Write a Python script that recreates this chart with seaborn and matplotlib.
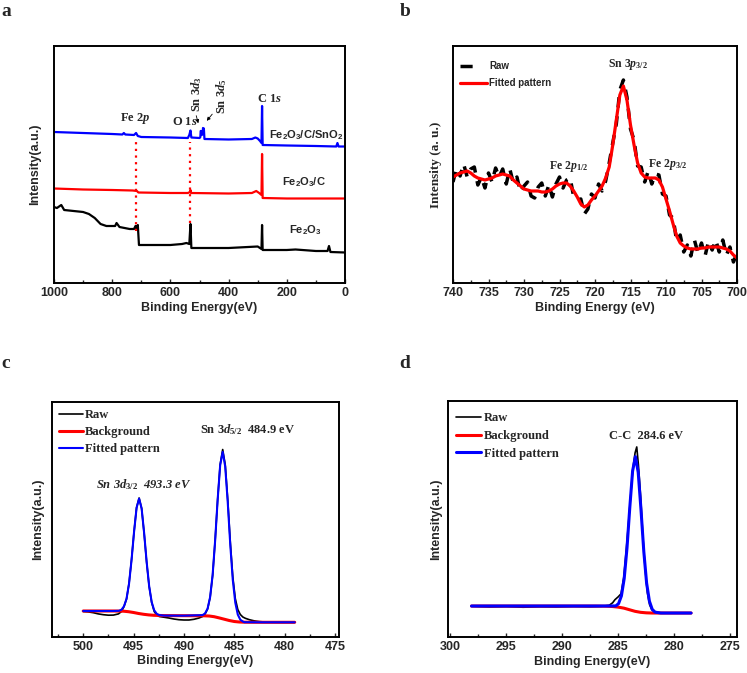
import numpy as np
import matplotlib
matplotlib.use("Agg")
import matplotlib.pyplot as plt
from matplotlib.ticker import MultipleLocator
from matplotlib.lines import Line2D
import seaborn as sns

# ---------------- data (intensities in arbitrary units) ----------------
# a) survey spectra
survey_sn_e = [1000, 900, 800, 765, 760, 755, 725, 718, 712, 700, 600, 540, 535, 531, 528, 500,
               497, 496, 494, 492, 489, 488, 485, 483, 400, 320, 308, 300, 292, 287, 285, 283,
               200, 100, 30, 26, 22, 0]
survey_sn_i = [151, 150, 149, 148.5, 150, 148.5, 148, 150, 147, 146, 145.5, 145, 148, 152.5, 145.5, 145,
               146, 152, 152, 148, 149, 155, 154.5, 144, 143.5, 144, 145.5, 144.5, 142, 140, 177, 138,
               137.5, 137, 136.5, 140, 136.5, 136.5]
survey_c_e = [1000, 900, 800, 730, 715, 710, 600, 540, 533, 531, 529, 400, 320, 305, 295, 287, 285, 283, 200, 0]
survey_c_i = [94.5, 93.5, 93, 92.5, 92, 90.5, 90, 90, 91, 93, 90, 89.5, 90, 92, 90, 88, 129, 85, 84.5, 84.5]
survey_fe_e = [1000, 990, 975, 965, 900, 880, 860, 840, 820, 790, 785, 775, 740, 725, 720, 715, 712, 708,
               700, 600, 560, 545, 535, 531, 528, 500, 400, 300, 287, 285, 283, 200, 170, 100, 60, 55, 50, 0]
survey_fe_i = [76, 75, 78, 73, 71, 69, 65, 59, 57, 57, 60, 56, 54, 54, 57, 53, 58, 38,
               38, 38, 39, 40, 39, 59, 35, 35, 35, 36.5, 34, 58, 33, 33, 33.5, 32, 32, 37, 31, 30.5]

# b) Fe 2p / Sn 3p region, 0.5 eV steps from 740 to 700 eV
fe2p_e = np.linspace(740, 700, 81)
fe2p_fit = [106, 108, 110, 111, 112, 110, 107, 105, 104, 103, 104, 105, 107, 108, 109, 108, 107, 103,
            100, 97, 94, 93, 92, 92, 92, 91, 91, 92, 94, 97, 99, 100, 100, 97, 92, 86, 79, 76,
            78, 83, 87, 92, 97, 105, 116, 138, 163, 188, 197, 183, 158, 138, 120, 110, 106, 105,
            105, 105, 103, 96, 84, 72, 59, 47, 40, 37, 35, 34, 34, 34, 35, 35, 36, 36, 36, 36,
            35, 34, 32, 28, 25]
fe2p_raw = [101, 115, 107, 119, 106, 114, 116, 98, 106, 95, 110, 101, 115, 106, 114, 99, 114, 100,
            106, 91, 97, 101, 87, 85, 96, 100, 87, 98, 86, 99, 106, 95, 103, 105, 86, 83, 84, 69,
            74, 89, 85, 99, 92, 102, 120, 140, 159, 193, 203, 186, 154, 143, 117, 116, 101, 112,
            99, 109, 108, 89, 87, 68, 65, 42, 48, 31, 38, 27, 43, 30, 40, 27, 42, 33, 43, 31,
            43, 28, 36, 21, 30]

# c) Sn 3d
sn3d_raw_e = [500, 499.5, 499, 498.5, 498, 497.5, 497, 496.5, 496.2, 495.95, 495.7, 495.45, 495.2, 494.95,
              494.7, 494.45, 494.2, 493.95, 493.7, 493.45, 493.2, 492.95, 492.7, 492.45, 492, 491.5, 491,
              490.5, 490, 489.5, 489, 488.5, 488.15, 487.9, 487.65, 487.4, 487.15, 486.9, 486.65, 486.4,
              486.15, 485.9, 485.65, 485.4, 485.15, 484.9, 484.65, 484.4, 484.15, 483.9, 483.5, 483,
              482.5, 482, 481, 480, 479]
sn3d_raw_i = [25.0, 24.6, 23.8, 22.6, 21.8, 21.3, 21.4, 22.6, 25.0, 30.0, 37.5, 53, 77, 105,
              129, 138.5, 128, 103, 74, 50, 34, 25, 21.5, 20.0, 19.3, 18.5, 17.5,
              16.8, 16.5, 16.5, 17.2, 18.5, 20.0, 22.5, 27.5, 39, 61, 96, 137, 172,
              187, 172, 137, 95, 60, 38, 27, 22, 19.5, 18.2, 16.8, 15.6,
              14.9, 14.5, 14.3, 14.2, 14.2]
sn3d_bg_e = [500, 497, 496, 495.5, 495, 494.5, 494, 493.5, 493, 492, 490, 488, 487.5, 487, 486.5, 486,
             485.5, 485, 484.5, 484, 482, 479]
sn3d_bg_i = [25.5, 25.5, 25.3, 24.8, 24.0, 23.0, 22.2, 21.6, 21.2, 20.9, 20.8, 20.7, 20.5, 19.8, 18.6, 17.3,
             16.0, 15.0, 14.5, 14.3, 14.2, 14.2]
sn3d_fit_e = [500, 497, 496.45, 496.2, 495.95, 495.7, 495.45, 495.2, 494.95, 494.7, 494.45, 494.2, 493.95,
              493.7, 493.45, 493.2, 492.95, 492.7, 492.45, 492, 490, 488.15, 487.9, 487.65, 487.4, 487.15,
              486.9, 486.65, 486.4, 486.15, 485.9, 485.65, 485.4, 485.15, 484.9, 484.65, 484.4, 484.15,
              484, 482, 479]
sn3d_fit_i = [25.5, 25.5, 25.7, 26.8, 30.2, 37.7, 52.9, 76.6, 104.8, 128.7, 137.9, 128.1, 103.4,
              74.5, 50.1, 34.4, 26.2, 22.7, 21.4, 20.9, 20.8, 21.4, 23.1, 27.9, 39.3, 61.5,
              95.9, 136.9, 171.3, 184.6, 170.0, 134.4, 92.2, 56.8, 33.9, 21.9, 16.8, 15.0,
              14.3, 14.2, 14.2]

# d) C 1s
c1s_raw_e = [298.1, 296.5, 295, 293.5, 292, 290.5, 289, 287.5, 286.5, 285.8, 285.5, 285.3, 285.0, 284.75,
             284.5, 284.3, 284.1, 283.9, 283.7, 283.5, 283.35, 283.2, 283.0, 282.8, 282.6, 282.4, 282.2,
             282.0, 281.7, 281.3, 280, 278.5]
c1s_raw_i = [30.5, 29.8, 30.2, 29.5, 30.0, 29.8, 30.3, 30.0, 30.4, 31.5, 34, 37, 40, 43,
             60, 85, 112, 140, 168, 184, 190, 172, 140, 100, 68, 44, 32,
             27, 24.8, 24.0, 23.7, 23.7]
c1s_bg_e = [298.1, 287, 286, 285.5, 285, 284.5, 284, 283.5, 283, 282.5, 282, 278.5]
c1s_bg_i = [30.7, 30.7, 30.5, 30.2, 29.6, 28.6, 27.0, 25.4, 24.4, 23.9, 23.7, 23.7]
c1s_fit_e = [298.1, 287, 285.22, 284.97, 284.72, 284.47, 284.22, 283.97, 283.72, 283.47, 283.22, 282.97,
             282.72, 282.47, 282.22, 281.97, 281.72, 281.2, 278.5]
c1s_fit_i = [30.7, 30.7, 30.8, 33.2, 40.8, 58.3, 88.9, 129.5, 165.9, 180.3, 164.6, 127.0,
             85.3, 53.7, 35.6, 27.4, 24.6, 23.7, 23.7]

# ---------------- style ----------------
sns.set_style("ticks")
plt.rcParams["font.family"] = ["Liberation Sans", "DejaVu Sans"]
plt.rcParams["mathtext.fontset"] = "custom"
plt.rcParams["mathtext.rm"] = "Liberation Serif:bold"
plt.rcParams["mathtext.it"] = "Liberation Serif:italic:bold"
plt.rcParams["mathtext.bf"] = "Liberation Serif:bold"
plt.rcParams["mathtext.sf"] = "Liberation Sans:bold"
plt.rcParams["axes.linewidth"] = 1.4

SERIF = ["Liberation Serif", "DejaVu Serif"]

fig = plt.figure(figsize=(7.47, 6.73), dpi=100)
W, H = 747.0, 673.0


def box(l, r, t, b):
    return [l / W, 1 - b / H, (r - l) / W, (b - t) / H]


ax_a = fig.add_axes(box(54, 345, 46, 283))
ax_b = fig.add_axes(box(453, 737, 46, 283))
ax_c = fig.add_axes(box(52, 339, 402, 636.5))
ax_d = fig.add_axes(box(448, 737, 401, 636.7))


def frame(ax, xlim, ylim, major, minor, ylabel, ylabel_serif=False, xlabel="Binding Energy(eV)", pad=8):
    ax.set_xlim(*xlim)
    ax.set_ylim(*ylim)
    ax.set_yticks([])
    ax.xaxis.set_major_locator(MultipleLocator(major))
    ax.xaxis.set_minor_locator(MultipleLocator(minor))
    ax.tick_params(axis="x", which="major", direction="in", length=3, width=1, labelsize=9, pad=3)
    ax.tick_params(axis="x", which="minor", direction="in", length=2.5, width=1)
    for lab in ax.get_xticklabels():
        lab.set_fontweight("bold")
    ax.set_xlabel(xlabel, fontsize=9, fontweight="bold", labelpad=2)
    if ylabel_serif:
        ax.set_ylabel(ylabel, fontsize=9.5, fontweight="bold", family=SERIF, labelpad=pad)
    else:
        ax.set_ylabel(ylabel, fontsize=9, fontweight="bold", labelpad=pad)
    for s in ax.spines.values():
        s.set_visible(True)
        s.set_color("black")


# ---------------- a ----------------
sns.lineplot(x=survey_fe_e, y=survey_fe_i, ax=ax_a, color="black", lw=1.6, sort=False, estimator=None)
sns.lineplot(x=survey_c_e, y=survey_c_i, ax=ax_a, color="#ff0000", lw=1.6, sort=False, estimator=None)
sns.lineplot(x=survey_sn_e, y=survey_sn_i, ax=ax_a, color="#0000ff", lw=1.6, sort=False, estimator=None)
ax_a.plot([717, 717], [52, 145], color="#ff0000", ls=(0, (1, 2)), lw=1.6)
ax_a.plot([532, 532], [60, 141], color="#ff0000", ls=(0, (1, 2)), lw=1.6)
frame(ax_a, (1000, 0), (0, 237), 200, 100, "Intensity(a.u.)", pad=9)

tkw = dict(family=SERIF, fontweight="bold", fontsize=9, ha="center", va="center")
ax_a.text(722, 165, r"Fe 2$\mathit{p}$", **tkw)
ax_a.text(551, 161, r"O 1$\mathit{s}$", **tkw)
ax_a.text(509, 189, r"Sn 3$\mathit{d}_{3}$", rotation=90, **tkw)
ax_a.text(423, 187, r"Sn 3$\mathit{d}_{5}$", rotation=90, **tkw)
ax_a.text(258, 184, r"C 1$\mathit{s}$", **tkw)
ax_a.annotate("", xy=(501.7, 157), xytext=(513.7, 170),
              arrowprops=dict(arrowstyle="-|>", lw=0.6, color="black", mutation_scale=5))
ax_a.annotate("", xy=(481.1, 160), xytext=(450.2, 171),
              arrowprops=dict(arrowstyle="-|>", lw=0.6, color="black", mutation_scale=5))
skw = dict(fontsize=8, fontweight="bold", ha="center", va="center")
ax_a.text(134, 148, r"Fe$_\mathsf{2}$O$_\mathsf{3}$/C/SnO$_\mathsf{2}$", **skw)
ax_a.text(141, 101, r"Fe$_\mathsf{2}$O$_\mathsf{3}$/C", **skw)
ax_a.text(137, 53, r"Fe$_\mathsf{2}$O$_\mathsf{3}$", **skw)

# ---------------- b ----------------
sns.lineplot(x=fe2p_e, y=fe2p_raw, ax=ax_b, color="black", lw=2.5, dashes=False,
             linestyle=(0, (3, 2.5)), sort=False, estimator=None)
sns.lineplot(x=fe2p_e, y=fe2p_fit, ax=ax_b, color="#ff0000", lw=2.3,
             sort=False, estimator=None)
frame(ax_b, (740, 700), (0, 237), 5, 2.5, "Intensity (a. u.)", ylabel_serif=True, xlabel="Binding Energy (eV)", pad=8)
raw_handle = Line2D([], [], color="black", lw=2.5, linestyle=(0, (3.5, 4.5)))
fit_handle = Line2D([], [], color="#ff0000", lw=2.3)
ax_b.legend([raw_handle, fit_handle], ["Raw", "Fitted pattern"], loc="upper left",
            bbox_to_anchor=(0, 0.965), frameon=False, handlelength=2.8,
            handletextpad=0.2, labelspacing=0.75, borderaxespad=0.3, borderpad=0.4,
            prop=dict(weight="bold", size=7))
tkw_b = dict(family=SERIF, fontweight="bold", fontsize=8.5, ha="center", va="center")
ax_b.text(715.4, 218, r"Sn 3$\mathit{p}_{3/2}$", **tkw_b)
ax_b.text(723.7, 116, r"Fe 2$\mathit{p}_{1/2}$", **tkw_b)
ax_b.text(709.8, 119, r"Fe 2$\mathit{p}_{3/2}$", **tkw_b)

# ---------------- c ----------------
sns.lineplot(x=sn3d_raw_e, y=sn3d_raw_i, ax=ax_c, color="black", lw=1.2,
             sort=False, estimator=None, label="Raw")
sns.lineplot(x=sn3d_bg_e, y=sn3d_bg_i, ax=ax_c, color="#ff0000", lw=2.2,
             sort=False, estimator=None, label="Background")
sns.lineplot(x=sn3d_fit_e, y=sn3d_fit_i, ax=ax_c, color="#0000ff", lw=1.5,
             sort=False, estimator=None, label="Fitted pattern")
frame(ax_c, (503.1, 474.6), (0, 234.5), 5, 2.5, "Intensity(a.u.)", pad=6)
ax_c.legend(loc="upper left", frameon=False, handlelength=1.9, handletextpad=0.2,
            labelspacing=0.42, borderaxespad=0.2, borderpad=0.35,
            prop=dict(family=SERIF, weight="bold", size=9))
ax_c.text(483.7, 206.5, r"Sn 3$\mathit{d}_{5/2}$  484.9 eV", family=SERIF, fontweight="bold",
          fontsize=9, ha="center", va="center")
ax_c.text(494.0, 151.5, r"Sn 3$\mathit{d}_{3/2}$  493.3 eV", family=SERIF, fontweight="bold",
          style="italic", fontsize=9, ha="center", va="center")

# ---------------- d ----------------
sns.lineplot(x=c1s_raw_e, y=c1s_raw_i, ax=ax_d, color="black", lw=1.2,
             sort=False, estimator=None, label="Raw")
sns.lineplot(x=c1s_bg_e, y=c1s_bg_i, ax=ax_d, color="#ff0000", lw=2.2,
             sort=False, estimator=None, label="Background")
sns.lineplot(x=c1s_fit_e, y=c1s_fit_i, ax=ax_d, color="#0000ff", lw=2.2,
             sort=False, estimator=None, label="Fitted pattern")
frame(ax_d, (300.2, 274.4), (0, 236), 5, 2.5, "Intensity(a.u.)", pad=4)
ax_d.legend(loc="upper left", bbox_to_anchor=(0, 0.985), frameon=False, handlelength=2.0,
            handletextpad=0.3, labelspacing=0.47, borderaxespad=0.2, borderpad=0.4,
            prop=dict(family=SERIF, weight="bold", size=9))
ax_d.text(282.5, 200.7, "C-C  284.6 eV", family=SERIF, fontweight="bold",
          fontsize=9, ha="center", va="center")

# panel letters
for letter, (px, py) in zip("abcd", [(6, 11), (405, 11), (6, 363), (405, 363)]):
    fig.text(px / W, 1 - py / H, letter, family=SERIF, fontweight="bold", fontsize=14,
             ha="center", va="center")

fig.savefig("out.png", dpi=100)
